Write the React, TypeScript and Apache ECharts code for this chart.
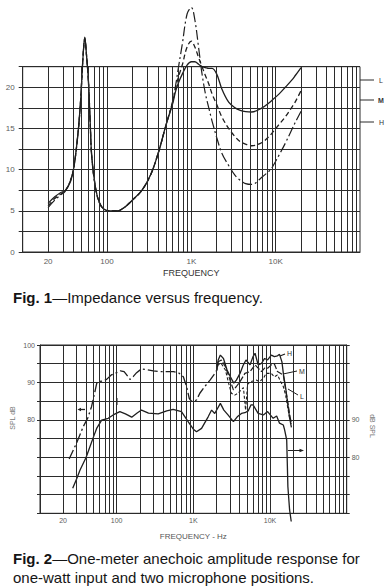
import React, { useEffect, useRef } from "react";
import * as echarts from "echarts";

// ---------- Fig. 1 : impedance (ohms) vs frequency ----------
const impFreq = [20, 24, 28, 32, 37, 40, 44, 48, 52, 54.5, 57, 60, 63, 66, 73, 81, 92, 110, 133, 160, 200, 260, 330, 410, 500, 600, 650, 700, 780, 890, 1000, 1100, 1220, 1340, 1470, 1610, 1760, 2000, 2300, 2770, 3300, 3800, 4400, 5200, 6900, 8300, 9000, 11000, 13000, 15600, 17000, 20000];
const impL = [5.9, 6.7, 7.2, 7.45, 8.6, 10.0, 13.2, 17.5, 23.8, 26.1, 24.0, 21.0, 16.0, 11.5, 7.8, 6.0, 5.2, 5.0, 5.0, 5.4, 6.3, 7.5, 9.4, 12.2, 15.4, 18.0, 19.5, 20.5, 21.6, 22.7, 23.1, 23.1, 22.8, 22.5, 22.4, 22.3, 22.3, 21.6, 19.8, 18.2, 17.5, 17.2, 17.05, 17.0, 17.5, 18.1, 18.4, 19.2, 20.0, 20.9, 21.4, 22.4];
const impM = [5.6, 6.5, 7.0, 7.45, 8.7, 10.0, 13.2, 17.5, 23.8, 26.0, 24.0, 21.0, 16.0, 11.5, 7.8, 6.0, 5.2, 5.0, 5.0, 5.4, 6.3, 7.5, 9.4, 12.2, 15.4, 18.2, 19.9, 21.2, 22.7, 24.9, 25.6, 24.9, 23.6, 22.5, 21.4, 20.4, 19.2, 17.9, 16.4, 15.0, 14.0, 13.4, 13.1, 12.9, 13.3, 14.0, 14.4, 15.5, 16.4, 17.6, 18.2, 19.6];
const impH = [5.4, 6.3, 6.9, 7.4, 8.8, 10.0, 13.2, 17.5, 23.8, 25.9, 24.0, 21.0, 16.0, 11.5, 7.8, 6.0, 5.2, 5.0, 5.0, 5.4, 6.3, 7.5, 9.4, 12.2, 15.4, 18.3, 20.2, 22.3, 25.2, 28.9, 29.7, 28.2, 24.8, 21.6, 19.2, 17.5, 15.9, 13.9, 12.0, 10.5, 9.3, 8.7, 8.3, 8.2, 9.1, 9.8, 10.2, 11.8, 13.2, 14.9, 15.7, 17.1];

// ---------- Fig. 2 : SPL (dB) vs frequency ----------
const splLowFreq = [24, 30, 36.7, 42, 47, 52, 55, 58, 66, 74, 85, 100, 112, 125, 135, 149, 165, 182, 210, 250, 300, 350, 450, 550, 640, 740, 816, 885, 944, 1020, 1100, 1215, 1410, 1650, 1850, 2000];
const splLow = [69.5, 73.8, 78.2, 80.5, 83.5, 87.5, 89.8, 90.2, 90.4, 90.8, 92.0, 92.6, 93.1, 92.9, 92.0, 90.8, 91.6, 92.6, 93.6, 93.4, 93.1, 92.9, 92.9, 92.9, 92.6, 91.5, 88.9, 85.7, 85.0, 85.0, 85.3, 87.1, 88.9, 90.6, 92.0, 93.0];
const splHFreq = [2000, 2110, 2250, 2470, 2750, 3040, 3370, 3640, 4060, 4450, 4860, 5500, 6000, 6380, 7000, 7750, 8500, 9300, 10400, 11400, 12500, 13300, 14300, 15000, 16000, 17100, 18000, 19000];
const splH = [93, 96, 97.3, 96.4, 93.3, 91.5, 89.8, 90.6, 92.4, 94.5, 96.0, 94.7, 96.9, 97.8, 94.7, 95.1, 96.4, 96.0, 97.3, 96.9, 97.1, 97.5, 95.5, 92.0, 88.5, 84.0, 80.5, 78.0];
const splMFreq = [2000, 2110, 2320, 2620, 2910, 3330, 3640, 4060, 4700, 5500, 6380, 7000, 7750, 8500, 9300, 10400, 11400, 12500, 13800, 14900, 16000, 17100, 18000, 19000];
const splM = [93, 95.5, 96.0, 94.2, 91.5, 88.0, 88.9, 90.2, 92.4, 92.9, 94.7, 93.8, 92.9, 93.8, 93.8, 94.7, 94.9, 92.9, 92.4, 92.0, 88.0, 84.5, 81.5, 79.0];
const splLFreq = [2000, 2110, 2320, 2620, 2910, 3130, 3470, 3830, 4200, 4500, 4800, 5100, 5500, 6700, 7300, 8200, 8900, 10400, 11400, 12500, 13800, 14900, 16000, 17100, 18000, 19000];
const splL = [93, 94.7, 95.0, 93.3, 89.5, 87.1, 86.6, 87.1, 88.0, 88.6, 82.6, 89.5, 90.2, 90.6, 90.2, 91.1, 92.4, 92.4, 91.5, 92.0, 90.2, 88.9, 86.5, 83.0, 80.5, 79.5];
// second microphone position, read on the right-hand (dB SPL) scale
const offFreq = [26.7, 30, 33.3, 40, 44.8, 50, 54.8, 63.7, 77.6, 90, 110, 130, 157, 185, 211, 260, 348, 450, 545, 700, 855, 1000, 1100, 1280, 1560, 1730, 1900, 2250, 2500, 2830, 3330, 3740, 4240, 4700, 5200, 5660, 6000, 7000, 8200, 9300, 11000, 12200, 13300, 14900, 15500, 16500, 16800, 17100, 18000, 18900];
const offSpl = [71.7, 74.2, 76.6, 80.0, 82.8, 85.5, 87.7, 89.9, 90.4, 91.3, 92.2, 91.6, 90.7, 91.8, 92.6, 91.8, 91.6, 92.4, 92.8, 92.2, 89.5, 87.5, 86.8, 87.7, 90.8, 92.6, 91.7, 94.4, 92.6, 91.3, 89.5, 90.8, 91.7, 91.9, 92.4, 94.0, 94.0, 91.7, 91.3, 92.2, 90.4, 91.0, 89.1, 88.6, 87.3, 84.6, 78.4, 72.1, 65.9, 62.8];

// ---------- ticks ----------
const xTickVals = [20, 100, 1000, 10000];
const xTickText = ["20", "100", "1K", "10K"];
const decades = [10, 100, 1000, 10000];
const multipliers = [1, 2, 3, 4, 5, 6, 7, 8, 9];
const fig1YLabels = [0, 5, 10, 15, 20];
const fig2LeftLabels = [80, 90, 100];
const fig2RightLabels = [80, 90];

const FONT = "'Liberation Sans', Arial, Helvetica, sans-serif";
const INK = "#1e1e1e";
const GRID = "#2b2b2b";
const LABEL = "#5c5c5c";

const gridFreqs: number[] = [];
decades.forEach((d) => multipliers.forEach((m) => { if (d * m > 10) gridFreqs.push(d * m); }));

function verticalGrid(fontSize: number, distance: number) {
  return {
    silent: true,
    animation: false,
    symbol: ["none", "none"],
    emphasis: { disabled: true },
    lineStyle: { color: GRID, width: 1, type: "solid" },
    label: { show: false },
    data: gridFreqs.map((f) => {
      const k = xTickVals.indexOf(f);
      return {
        xAxis: f,
        label: k >= 0
          ? { show: true, position: "start", distance, formatter: xTickText[k], color: LABEL, fontSize, fontFamily: FONT }
          : { show: false },
      };
    }),
  };
}

const pairs = (xs: number[], ys: number[]) => xs.map((x, i) => [x, ys[i]]);

export default function App() {
  const ref = useRef<HTMLDivElement>(null);
  useEffect(() => {
    if (!ref.current) return;
    const chart = echarts.init(ref.current, null, { renderer: "svg" });
    const lineBase = { type: "line", symbol: "none", showSymbol: false, clip: false, animation: false, silent: true };
    const capStyle = (text: string) => ({
      text, fontSize: 15, fontFamily: FONT, fill: "#151515", verticalAlign: "middle",
      rich: { b: { fontSize: 15, fontWeight: "bold", fontFamily: FONT, fill: "#151515" } },
    });
    const option: any = {
      animation: false,
      backgroundColor: "#ffffff",
      textStyle: { fontFamily: FONT },
      grid: [
        { left: 22.7, top: 66.7, width: 337.3, height: 185.3, show: true, borderColor: GRID, borderWidth: 1, backgroundColor: "transparent" },
        { left: 40, top: 345, width: 306.7, height: 168.3, show: true, borderColor: GRID, borderWidth: 1, backgroundColor: "transparent" },
      ],
      xAxis: [
        {
          type: "log", logBase: 10, gridIndex: 0, min: 10, max: 100000,
          axisLine: { show: true, lineStyle: { color: GRID } }, axisTick: { show: false }, axisLabel: { show: false }, splitLine: { show: false },
          name: "FREQUENCY", nameLocation: "middle", nameGap: 16,
          nameTextStyle: { color: "#333", fontSize: 9, fontFamily: FONT },
        },
        {
          type: "log", logBase: 10, gridIndex: 1, min: 10, max: 100000,
          axisLine: { show: true, lineStyle: { color: GRID } }, axisTick: { show: false }, axisLabel: { show: false }, splitLine: { show: false },
          name: "FREQUENCY - Hz", nameLocation: "middle", nameGap: 19,
          nameTextStyle: { color: "#555", fontSize: 8, fontFamily: FONT },
        },
      ],
      yAxis: [
        {
          type: "value", gridIndex: 0, min: 0, max: 22.5, interval: 2.5,
          axisLine: { show: true, lineStyle: { color: GRID } },
          axisTick: { show: true, length: 4, lineStyle: { color: GRID } },
          axisLabel: { margin: 8, color: LABEL, fontSize: 8, fontFamily: FONT, formatter: (v: number) => (fig1YLabels.includes(v) ? String(v) : "") },
          splitLine: { show: true, lineStyle: { color: GRID, width: 1 } },
        },
        {
          type: "value", gridIndex: 1, min: 55, max: 100, interval: 5,
          axisLine: { show: true, lineStyle: { color: GRID } },
          axisTick: { show: true, length: 3, lineStyle: { color: GRID } },
          axisLabel: { margin: 5, color: LABEL, fontSize: 7, fontFamily: FONT, formatter: (v: number) => (fig2LeftLabels.includes(v) ? String(v) : "") },
          splitLine: { show: true, lineStyle: { color: GRID, width: 1 } },
        },
        {
          type: "value", gridIndex: 1, position: "right", min: 65, max: 110, interval: 5,
          axisLine: { show: true, lineStyle: { color: GRID } },
          axisTick: { show: true, length: 3, lineStyle: { color: GRID } },
          axisLabel: { margin: 5, color: LABEL, fontSize: 7, fontFamily: FONT, formatter: (v: number) => (fig2RightLabels.includes(v) ? String(v) : "") },
          splitLine: { show: false },
        },
      ],
      series: [
        { ...lineBase, name: "L", xAxisIndex: 0, yAxisIndex: 0, smooth: 0.35, data: pairs(impFreq, impL), lineStyle: { color: INK, width: 1.3 }, markLine: verticalGrid(8, 5), z: 3 },
        { ...lineBase, name: "M", xAxisIndex: 0, yAxisIndex: 0, smooth: 0.35, data: pairs(impFreq, impM), lineStyle: { color: INK, width: 1.3, type: [5, 3] }, z: 3 },
        { ...lineBase, name: "H", xAxisIndex: 0, yAxisIndex: 0, smooth: 0.35, data: pairs(impFreq, impH), lineStyle: { color: INK, width: 1.2, type: [10, 3, 2, 3] }, z: 3 },

        { ...lineBase, name: "LF", xAxisIndex: 1, yAxisIndex: 1, data: pairs(splLowFreq, splLow), lineStyle: { color: INK, width: 1.3, type: [10, 3, 2, 3] }, markLine: verticalGrid(7, 4), z: 3 },
        { ...lineBase, name: "H2", xAxisIndex: 1, yAxisIndex: 1, data: pairs(splHFreq, splH), lineStyle: { color: INK, width: 1.3 }, z: 3 },
        { ...lineBase, name: "M2", xAxisIndex: 1, yAxisIndex: 1, data: pairs(splMFreq, splM), lineStyle: { color: INK, width: 1.2, type: [6, 2] }, z: 3 },
        { ...lineBase, name: "L2", xAxisIndex: 1, yAxisIndex: 1, data: pairs(splLFreq, splL), lineStyle: { color: INK, width: 1.1, type: [3, 2] }, z: 3 },
        { ...lineBase, name: "off", xAxisIndex: 1, yAxisIndex: 2, data: pairs(offFreq, offSpl), lineStyle: { color: INK, width: 1.3 }, z: 3 },
      ],
      graphic: [
        // Fig. 1 curve labels
        { type: "line", shape: { x1: 360, y1: 80, x2: 374, y2: 80 }, style: { stroke: GRID, lineWidth: 1 } },
        { type: "line", shape: { x1: 360, y1: 100, x2: 374, y2: 100 }, style: { stroke: GRID, lineWidth: 1 } },
        { type: "line", shape: { x1: 360, y1: 122, x2: 374, y2: 122 }, style: { stroke: GRID, lineWidth: 1 } },
        { type: "text", x: 379, y: 80, style: { text: "L", fontSize: 7, fontFamily: FONT, fill: "#333", verticalAlign: "middle" } },
        { type: "text", x: 378, y: 100, style: { text: "M", fontSize: 7, fontWeight: "bold", fontFamily: FONT, fill: "#333", verticalAlign: "middle" } },
        { type: "text", x: 379, y: 122, style: { text: "H", fontSize: 7, fontFamily: FONT, fill: "#333", verticalAlign: "middle" } },
        // Fig. 1 caption
        { type: "text", x: 13, y: 297, style: capStyle("{b|Fig. 1}—Impedance versus frequency.") },
        // Fig. 2 axis titles
        { type: "text", x: 12, y: 418, rotation: Math.PI / 2, style: { text: "SPL dB", fontSize: 7, fontFamily: FONT, fill: "#777", align: "center", verticalAlign: "middle" } },
        { type: "text", x: 372, y: 426, rotation: -Math.PI / 2, style: { text: "dB SPL", fontSize: 7, fontFamily: FONT, fill: "#777", align: "center", verticalAlign: "middle" } },
        // Fig. 2 curve labels
        { type: "line", shape: { x1: 280, y1: 356, x2: 285, y2: 354 }, style: { stroke: INK, lineWidth: 1.2 } },
        { type: "text", x: 287, y: 353, style: { text: "H", fontSize: 7, fontFamily: FONT, fill: "#333", verticalAlign: "middle" } },
        { type: "line", shape: { x1: 283, y1: 374, x2: 297, y2: 371 }, style: { stroke: INK, lineWidth: 1 } },
        { type: "text", x: 299, y: 371, style: { text: "M", fontSize: 7, fontFamily: FONT, fill: "#333", verticalAlign: "middle" } },
        { type: "line", shape: { x1: 288, y1: 389, x2: 298, y2: 395 }, style: { stroke: INK, lineWidth: 1 } },
        { type: "text", x: 300, y: 396, style: { text: "L", fontSize: 7, fontFamily: FONT, fill: "#333", verticalAlign: "middle" } },
        // Fig. 2 arrows pointing to their scales
        { type: "line", shape: { x1: 80, y1: 409.5, x2: 85, y2: 409.5 }, style: { stroke: INK, lineWidth: 1.3 } },
        { type: "polygon", shape: { points: [[77.5, 409.5], [81, 407.8], [81, 411.2]] }, style: { fill: INK } },
        { type: "line", shape: { x1: 288, y1: 450.5, x2: 300, y2: 450.5 }, style: { stroke: INK, lineWidth: 1 } },
        { type: "polygon", shape: { points: [[304, 450.5], [299.5, 448.7], [299.5, 452.3]] }, style: { fill: INK } },
        { type: "line", shape: { x1: 117, y1: 398, x2: 117, y2: 405 }, style: { stroke: INK, lineWidth: 1 } },
        // Fig. 2 caption
        { type: "text", x: 13, y: 558, style: capStyle("{b|Fig. 2}—One-meter anechoic amplitude response for") },
        { type: "text", x: 13, y: 577, style: capStyle("one-watt input and two microphone positions.") },
      ],
    };
    chart.setOption(option);
    return () => chart.dispose();
  }, []);
  return <div ref={ref} style={{ position: "fixed", left: 0, top: 0, width: 390, height: 588, background: "#fff" }} />;
}
